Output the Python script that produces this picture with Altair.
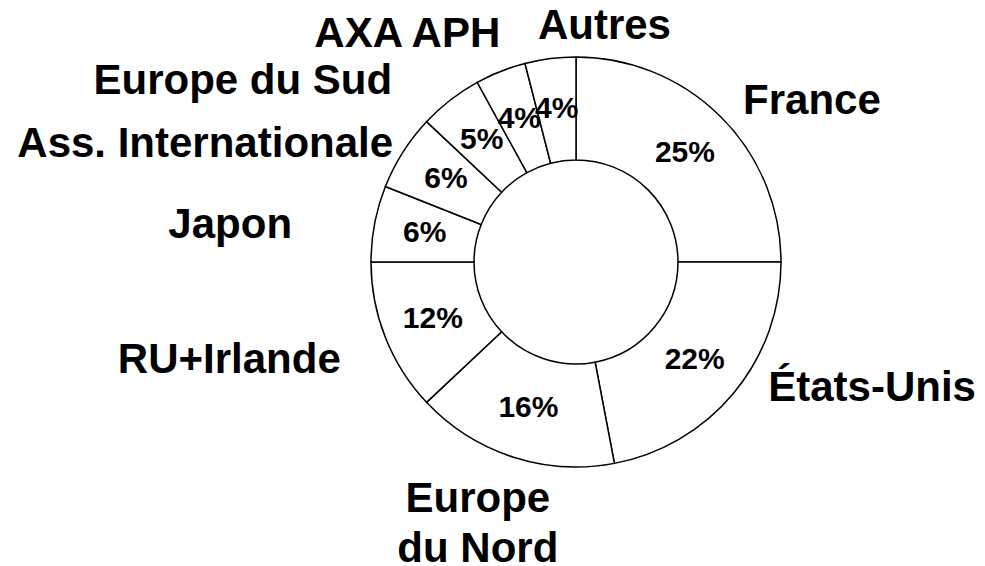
import altair as alt
import pandas as pd

# --- data ---
categories = ["France", "États-Unis", "Europe du Nord", "RU+Irlande", "Japon",
              "Ass. Internationale", "Europe du Sud", "AXA APH", "Autres"]
label_text = ["France", "États-Unis", "Europe\ndu Nord", "RU+Irlande", "Japon",
              "Ass. Internationale", "Europe du Sud", "AXA APH", "Autres"]
shares = [25, 22, 16, 12, 6, 6, 5, 4, 4]

# --- label layout (Excel-like placement of the category names) ---
label_nudge_deg = [3.5, -3.8, 3.4, -3.6, -5.9, -2.5, -9.8, 2.2, -2.5]
label_radius = [223, 237, 269, 260, 285, 211, 249, 228, 226]
label_align = ["left", "left", "center", "right", "right", "right", "right", "right", "left"]

df = pd.DataFrame({
    "idx": list(range(len(categories))),
    "cat": categories,
    "lab": label_text,
    "share": shares,
    "nudge": label_nudge_deg,
    "lr": label_radius,
    "al": label_align,
})

OUTER, INNER = 205, 102
FONT = "Liberation Sans"

base = alt.Chart(df)

ring = base.mark_arc(radius=OUTER, radius2=INNER, fill="white", stroke="black",
                     strokeWidth=1.5).encode(
    theta=alt.Theta("share:Q", stack=True),
    order=alt.Order("idx:Q"),
)

angles = base.transform_window(
    cum="sum(share)", sort=[alt.SortField("idx")], frame=[None, 0]
).transform_joinaggregate(
    total="sum(share)"
).transform_calculate(
    mid="(datum.cum - datum.share / 2) / datum.total * 2 * PI",
    ang="datum.mid + datum.nudge * PI / 180",
    pct="datum.share + '%'",
)

pct = angles.mark_text(font=FONT, fontWeight="bold", fontSize=30, color="black",
                       align="center", baseline="middle").encode(
    theta=alt.Theta("mid:Q", scale=None, stack=False),
    radius=alt.value((OUTER + INNER) / 2 + 0.5),
    text="pct:N",
)

def names(al):
    return angles.transform_filter(alt.datum.al == al).mark_text(
        font=FONT, fontWeight="bold", fontSize=42, color="black",
        align=al, baseline="alphabetic", lineBreak="\n", lineHeight=50,
    ).encode(
        theta=alt.Theta("ang:Q", scale=None, stack=False),
        radius=alt.Radius("lr:Q", scale=None),
        text="lab:N",
    )

chart = alt.layer(ring, pct, names("left"), names("right"), names("center")).resolve_scale(
    theta="independent", radius="independent"
).properties(
    width=536, height=508,
    padding={"left": 300, "top": 0, "right": 133, "bottom": 50},
    autosize=alt.AutoSizeParams(type="none"),
    background="white",
).configure_view(strokeWidth=0)

chart.save("out.html", embed_options={"renderer": "svg", "actions": False})
